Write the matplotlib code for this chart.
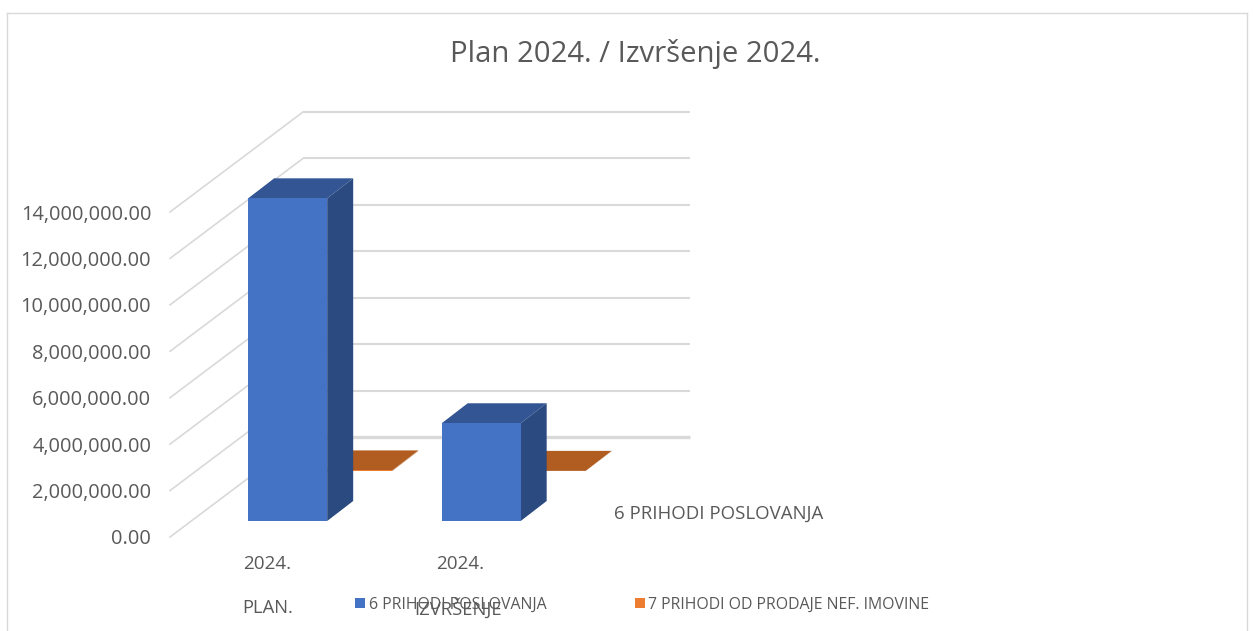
import matplotlib
matplotlib.use('Agg')
import matplotlib.pyplot as plt
from matplotlib.lines import Line2D
from matplotlib.patches import Polygon, Rectangle

plt.rcParams['font.family'] = ['Open Sans', 'DejaVu Sans']

years = ['2024.', '2024.']
groups = ['PLAN.', 'IZVRŠENJE']
series1_name = '6 PRIHODI POSLOVANJA'
series2_name = '7 PRIHODI OD PRODAJE NEF. IMOVINE'
series1 = [13900000, 4210000]
series2 = [25000, 5000]
yticks = [0, 2000000, 4000000, 6000000, 8000000, 10000000, 12000000, 14000000]

W, H = 1253, 631
GRID = '#d9d9d9'
TEXT = '#595959'

fig = plt.figure(figsize=(W / 100, H / 100), dpi=100)
ax = fig.add_axes([170 / W, 1 - 537 / H, 387 / W, 325 / H])
ax.set_xlim(-0.5, 1.5)
ax.set_ylim(0, 14000000)
ax.patch.set_alpha(0)
for s in ax.spines.values():
    s.set_visible(False)

# the fake 3D: wall depth and bar depth, in data units
wall_dx, wall_dy = 2 * 133 / 387, 100 * 14000000 / 325
bar_dx, bar_dy = 2 * 26 / 387, 20 * 14000000 / 325
bar_lift = 16 * 14000000 / 325
orange_lift = 66 * 14000000 / 325
blue_left = -0.096
blue_w = 2 * 79 / 387
orange_w = 2 * 65 / 387

for t in yticks:
    w = 2.4 if t == 0 else 1.5
    ax.plot([-0.5, -0.5 + wall_dx], [t, t + wall_dy], color=GRID, lw=1.2, clip_on=False, zorder=1)
    ax.plot([-0.5 + wall_dx, 1.5 + wall_dx], [t + wall_dy, t + wall_dy], color=GRID, lw=w,
            clip_on=False, zorder=1, solid_capstyle='butt')


def box(x, w, base, h, front, side, top, z):
    ax.add_patch(Polygon([(x, base + h), (x + w, base + h), (x + w + bar_dx, base + h + bar_dy),
                          (x + bar_dx, base + h + bar_dy)], color=top, lw=0, clip_on=False, zorder=z))
    ax.add_patch(Polygon([(x + w, base), (x + w + bar_dx, base + bar_dy), (x + w + bar_dx, base + h + bar_dy),
                          (x + w, base + h)], color=side, lw=0, clip_on=False, zorder=z))
    ax.add_patch(Rectangle((x, base), w, h, color=front, lw=0, clip_on=False, zorder=z + 0.1))


for i in range(len(series1)):
    x = i + blue_left
    box(x + blue_w, orange_w, orange_lift, series2[i], '#ed7d31', '#b15c20', '#b15c20', 2)
    box(x, blue_w, bar_lift, series1[i], '#4472c4', '#2a4a80', '#335593', 3)

ax.set_yticks(yticks)
ax.set_yticklabels(['{:,.2f}'.format(t) for t in yticks], fontsize=14.4, color=TEXT)
ax.set_xticks(range(len(years)))
ax.set_xticklabels(years, fontsize=13.6, color=TEXT)
ax.tick_params(axis='y', length=0, pad=13.5)
ax.tick_params(axis='x', length=0, pad=13)


def px_text(x, y, s, size, ha='center'):
    fig.text(x / W, 1 - y / H, s, fontsize=size, color=TEXT, ha=ha, va='center')


px_text(635, 54, 'Plan 2024. / Izvršenje 2024.', 21.1)
px_text(268, 608, groups[0], 13.2)
px_text(458, 608, groups[1], 13.3)
px_text(614, 514, series1_name, 13.4, ha='left')
px_text(369, 605, series1_name, 11.4, ha='left')
px_text(648, 605, series2_name, 11.4, ha='left')

fig.add_artist(Rectangle((355 / W, 1 - 608 / H), 10 / W, 10 / H, color='#4472c4', lw=0, transform=fig.transFigure))
fig.add_artist(Rectangle((635 / W, 1 - 608 / H), 10 / W, 10 / H, color='#ed7d31', lw=0, transform=fig.transFigure))

# chart frame, cut off at the bottom
for xs, ys in [([7, 7], [631, 13]), ([7, 1247], [13, 13]), ([1247, 1247], [13, 631])]:
    fig.add_artist(Line2D([v / W for v in xs], [1 - v / H for v in ys], color=GRID, lw=1.0))

fig.savefig('out.png', dpi=100)
